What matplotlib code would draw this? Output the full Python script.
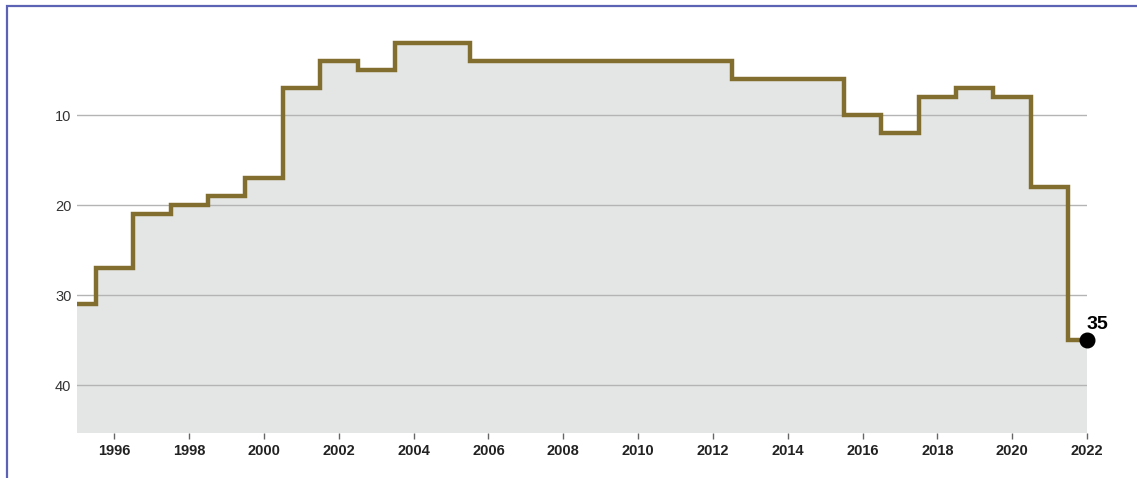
import matplotlib.pyplot as plt
from matplotlib.patches import Rectangle

years = list(range(1995, 2023))
ranks = [31, 27, 21, 20, 19, 17, 7, 4, 5, 2, 2, 4, 4, 4, 4, 4, 4, 4,
         6, 6, 6, 10, 12, 8, 7, 8, 18, 35]
x_ticks = list(range(1996, 2023, 2))
y_ticks = [10, 20, 30, 40]

W, H = 1137, 478
fig = plt.figure(figsize=(W / 100, H / 100), dpi=100)
ax = fig.add_axes([77 / W, 45 / H, (1087 - 77) / W, (458 - 45) / H])

y_bottom = 45.33
ax.fill_between(years, ranks, y_bottom, step='mid', color='#e4e6e5', lw=0, zorder=1)
ax.step(years, ranks, where='mid', color='#826f30', lw=3.2, zorder=3,
        solid_joinstyle='miter')
ax.plot(years[-1], ranks[-1], 'o', color='black', ms=10.5, zorder=4, clip_on=False)
ax.annotate(str(ranks[-1]), (years[-1], ranks[-1]), xytext=(0, 5),
            textcoords='offset points', fontsize=14, fontweight='bold',
            family='Liberation Sans', ha='left', va='bottom')

ax.set_xlim(1995, 2022)
ax.set_ylim(y_bottom, 10 - (115 - 20) / 9)
ax.set_xticks(x_ticks)
ax.set_yticks(y_ticks)
for y in y_ticks:
    ax.axhline(y, color='#b4b4b4', lw=1, zorder=2)

for s in ax.spines.values():
    s.set_visible(False)
ax.tick_params(axis='x', length=4, width=1, color='#666666', pad=4,
               labelsize=10.5, labelcolor='#222222', direction='out')
ax.tick_params(axis='y', length=0, pad=4, labelsize=10.5, labelcolor='#333333')
for lab in ax.get_xticklabels():
    lab.set_fontweight('bold')
    lab.set_family('Liberation Sans')
for lab in ax.get_yticklabels():
    lab.set_family('Liberation Sans')

# frame around the figure (left and top edges visible)
fig.add_artist(Rectangle((7 / W, -0.1), 1.2, 1 - 6 / H + 0.1, transform=fig.transFigure,
                         fill=False, ec='#5c63b5', lw=1.6))

fig.savefig('out.png', dpi=100)
